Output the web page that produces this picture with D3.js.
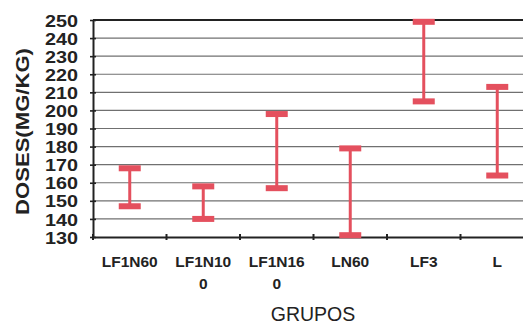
<!DOCTYPE html>
<html>
<head>
<meta charset="utf-8">
<script src="https://cdn.jsdelivr.net/npm/d3@7"></script>
<style>
  html, body { margin: 0; padding: 0; background: #fff; }
  svg { display: block; }
</style>
</head>
<body>
<svg id="chart" width="523" height="325"></svg>
<script>
// Dose ranges (mg/kg) per group: lower and upper limits
const groups = ["LF1N60", "LF1N100", "LF1N160", "LN60", "LF3", "L"];
const groupLabels = [["LF1N60"], ["LF1N10", "0"], ["LF1N16", "0"], ["LN60"], ["LF3"], ["L"]];
const lowValues = [147, 140, 157, 131, 205, 164];
const highValues = [168, 158, 198, 179, 249, 213];
const yTicks = [130, 140, 150, 160, 170, 180, 190, 200, 210, 220, 230, 240, 250];

const svg = d3.select("#chart");
const plotLeft = 93, plotTop = 20, plotBottom = 237, bandW = 73.5;
const red = "#e4505e";

const x = d3.scaleBand().domain(groups).range([plotLeft, plotLeft + bandW * groups.length]);
const y = d3.scaleLinear().domain([130, 250]).range([plotBottom, plotTop]);

// horizontal grid
svg.append("g").selectAll("line").data(yTicks.filter(t => t !== 130 && t !== 250)).join("line")
  .attr("x1", plotLeft).attr("x2", 523)
  .attr("y1", d => y(d)).attr("y2", d => y(d))
  .attr("stroke", "#707070").attr("stroke-width", 1.2);

// top frame line
svg.append("line").attr("x1", plotLeft).attr("x2", 523).attr("y1", y(250)).attr("y2", y(250))
  .attr("stroke", "#222").attr("stroke-width", 2);

// y axis
const yAxis = svg.append("g").attr("transform", `translate(${plotLeft},0)`)
  .call(d3.axisLeft(y).tickValues(yTicks).tickSizeInner(3).tickSizeOuter(0));
yAxis.select(".domain").attr("stroke", "#222").attr("stroke-width", 2);
yAxis.selectAll(".tick line").attr("x2", 3).attr("x1", -3).attr("stroke", "#222").attr("stroke-width", 1.6);
yAxis.selectAll(".tick text")
  .attr("x", -15).attr("dy", "0.36em")
  .attr("font-family", "'Liberation Sans', Arial, sans-serif")
  .attr("font-weight", "bold").attr("font-size", 17).attr("fill", "#222")
  .attr("textLength", 33).attr("lengthAdjust", "spacingAndGlyphs");

// x axis
const xAxis = svg.append("g").attr("transform", `translate(0,${plotBottom})`)
  .call(d3.axisBottom(x).tickSize(0).tickFormat(""));
xAxis.select(".domain").attr("stroke", "#222").attr("stroke-width", 2);
const xTickPos = d3.range(groups.length + 1).map(i => plotLeft + i * bandW);
svg.append("g").selectAll("line").data(xTickPos).join("line")
  .attr("x1", d => d).attr("x2", d => d)
  .attr("y1", plotBottom - 3).attr("y2", plotBottom + 3)
  .attr("stroke", "#222").attr("stroke-width", 2);

// category labels (wrapped)
const lab = svg.append("g").selectAll("text").data(groups).join("text")
  .attr("x", d => x(d) + x.bandwidth() / 2)
  .attr("y", 267)
  .attr("text-anchor", "middle")
  .attr("font-family", "'Liberation Sans', Arial, sans-serif")
  .attr("font-weight", "bold").attr("font-size", 15.5).attr("fill", "#222");
lab.each(function(d, i) {
  const t = d3.select(this);
  groupLabels[i].forEach((line, j) => {
    t.append("tspan").attr("x", x(d) + x.bandwidth() / 2).attr("dy", j === 0 ? 0 : 21.5).text(line);
  });
});

// error bars
const bars = svg.append("g").selectAll("g").data(groups).join("g");
bars.append("line")
  .attr("x1", d => x(d) + x.bandwidth() / 2).attr("x2", d => x(d) + x.bandwidth() / 2)
  .attr("y1", (d, i) => y(highValues[i])).attr("y2", (d, i) => y(lowValues[i]))
  .attr("stroke", red).attr("stroke-width", 3);
bars.append("rect")
  .attr("x", d => x(d) + x.bandwidth() / 2 - 11).attr("width", 22)
  .attr("y", (d, i) => y(highValues[i]) - 3).attr("height", 6)
  .attr("fill", red);
bars.append("rect")
  .attr("x", d => x(d) + x.bandwidth() / 2 - 11).attr("width", 22)
  .attr("y", (d, i) => y(lowValues[i]) - 3).attr("height", 6)
  .attr("fill", red);

// axis titles
svg.append("text")
  .attr("transform", "translate(29,131.5) rotate(-90)")
  .attr("text-anchor", "middle")
  .attr("font-family", "'Liberation Sans', Arial, sans-serif")
  .attr("font-weight", "bold").attr("font-size", 18).attr("fill", "#222")
  .attr("textLength", 167).attr("lengthAdjust", "spacingAndGlyphs")
  .text("DOSES(MG/KG)");

svg.append("text")
  .attr("x", 313).attr("y", 321)
  .attr("text-anchor", "middle")
  .attr("font-family", "'Liberation Sans', Arial, sans-serif")
  .attr("font-size", 19.5).attr("fill", "#222")
  .text("GRUPOS");
</script>
</body>
</html>
